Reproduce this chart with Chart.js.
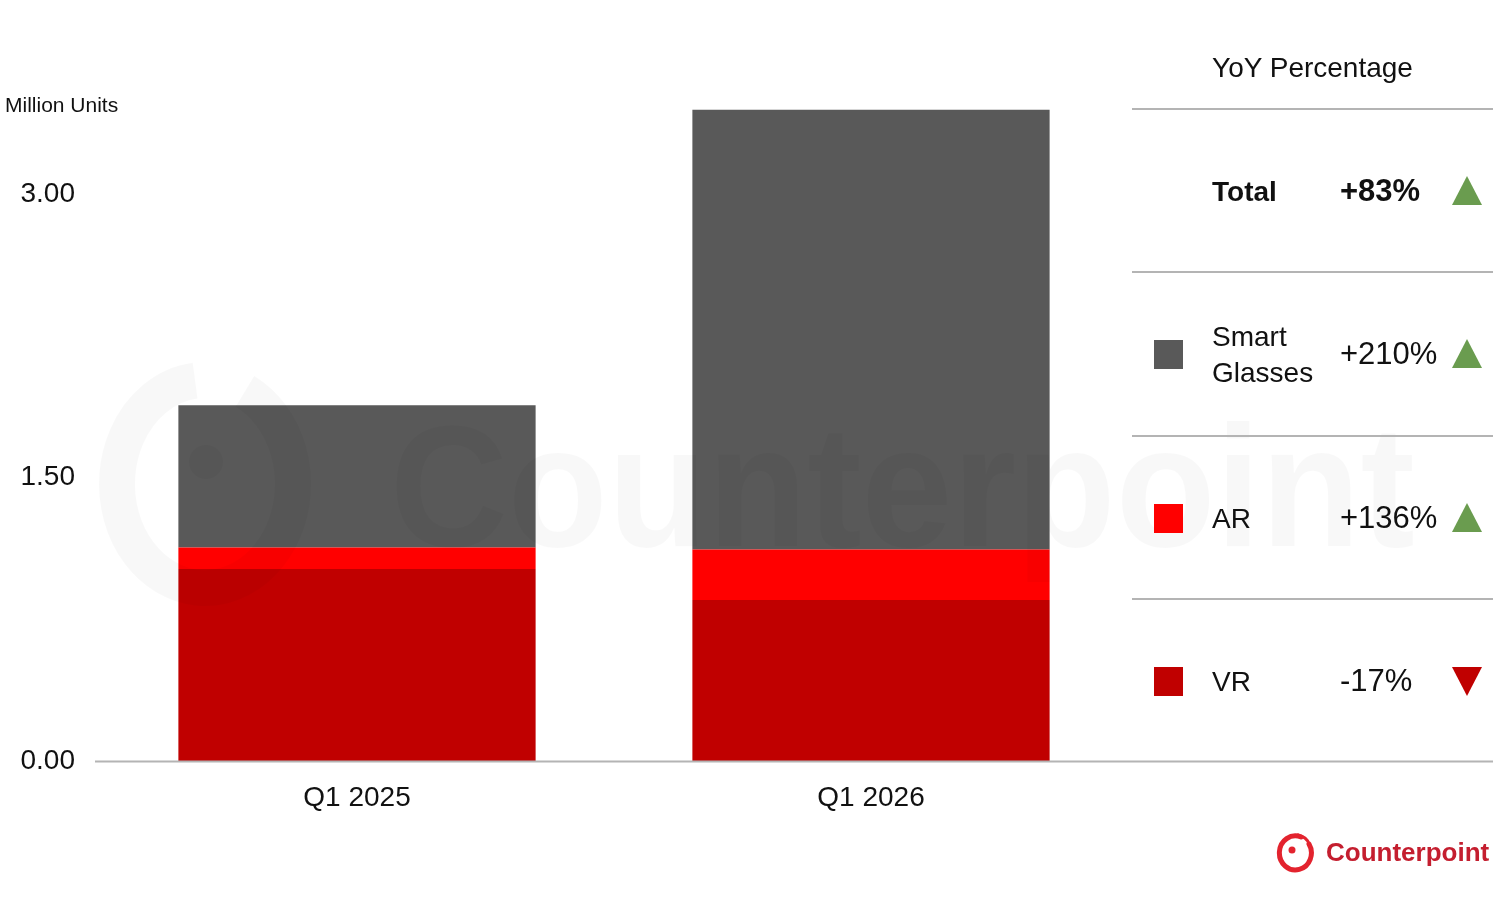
<!DOCTYPE html>
<html>
<head>
<meta charset="utf-8">
<script src="https://cdn.jsdelivr.net/npm/chart.js@4.4.1/dist/chart.umd.min.js"></script>
<style>
  html, body { margin: 0; padding: 0; background: #fff; }
  body { width: 1500px; height: 900px; position: relative; overflow: hidden;
         font-family: "Liberation Sans", Arial, sans-serif; color: #111; }
  #chart { position: absolute; left: 0; top: 0; }
  .unit { position: absolute; left: 5px; top: 93px; font-size: 21px; }
  .yoy { position: absolute; left: 1132px; top: 0; width: 361px; }
  .yoy .head { position: absolute; left: 0; top: 52px; width: 361px; text-align: center; font-size: 28px; }
  .yoy .row { position: absolute; left: 0; width: 361px; border-top: 2px solid #b4b4b4; }
  .yoy .sq { position: absolute; left: 22px; width: 29px; height: 29px; }
  .yoy .lbl { position: absolute; left: 80px; font-size: 28px; line-height: 36px; }
  .yoy .pct { position: absolute; left: 208px; font-size: 31px; line-height: 36px; }
  .yoy .tri { position: absolute; left: 320px; width: 0; height: 0;
              border-left: 15px solid transparent; border-right: 15px solid transparent; }
  .logo { position: absolute; left: 1276px; top: 830px; height: 44px; display: flex; align-items: center; }
  .logo span { font-weight: bold; font-size: 26px; color: #c41e2f; margin-left: 12px; }
</style>
</head>
<body>
<canvas id="chart" width="1500" height="900"></canvas>
<div class="unit">Million Units</div>
<div class="yoy" id="yoy"><div class="head">YoY Percentage</div></div>
<div class="logo">
  <svg width="38" height="42" viewBox="0 0 38 42">
    <path d="M25 6 A16 17 0 1 0 33 13" fill="none" stroke="#e3232e" stroke-width="5" stroke-linecap="round"/>
    <path d="M22 4 Q31 6 33 13" fill="none" stroke="#e3232e" stroke-width="3" stroke-linecap="round"/>
    <circle cx="16" cy="19" r="3.5" fill="#e3232e"/>
  </svg>
  <span>Counterpoint</span>
</div>
<script>
const categories = ["Q1 2025", "Q1 2026"];
const vrValues = [1.016, 0.852];
const arValues = [0.115, 0.268];
const smartGlassesValues = [0.753, 2.328];
const yTicks = [0, 1.5, 3.0];

const yoyRows = ["Total", "Smart<br>Glasses", "AR", "VR"];
const yoyValues = ["+83%", "+210%", "+136%", "-17%"];
const yoyUp = [true, true, true, false];

const colVR = "#c00000", colAR = "#ff0000", colSG = "#595959";
const swatches = [null, colSG, colAR, colVR];

// tabella YoY a destra
const yoy = document.getElementById("yoy");
const rowTops = [108, 271, 435, 598];
yoyRows.forEach((name, i) => {
  const h = (rowTops[i + 1] || 761) - rowTops[i];
  const row = document.createElement("div");
  row.className = "row";
  row.style.top = rowTops[i] + "px";
  row.style.height = h + "px";
  const mid = h / 2;
  const twoLines = name.includes("<br>");
  let html = "";
  if (swatches[i]) html += `<div class="sq" style="top:${mid - 15}px;background:${swatches[i]}"></div>`;
  html += `<div class="lbl" style="top:${mid - (twoLines ? 36 : 18)}px;${i === 0 ? "font-weight:bold" : ""}">${name}</div>`;
  html += `<div class="pct" style="top:${mid - 19}px;${i === 0 ? "font-weight:bold" : ""}">${yoyValues[i]}</div>`;
  if (yoyUp[i]) html += `<div class="tri" style="top:${mid - 16}px;border-bottom:29px solid #6a9c4f"></div>`;
  else html += `<div class="tri" style="top:${mid - 15}px;border-top:29px solid #c00000"></div>`;
  row.innerHTML = html;
  yoy.appendChild(row);
});

// watermark + linea di base
const decor = {
  id: "decor",
  afterDatasetsDraw(chart) {
    const { ctx, chartArea } = chart;
    ctx.save();
    ctx.fillStyle = "rgba(0,0,0,0.028)";
    ctx.strokeStyle = "rgba(0,0,0,0.028)";
    ctx.font = "bold 172px 'Liberation Sans', Arial, sans-serif";
    ctx.textBaseline = "alphabetic";
    ctx.fillText("Counterpoint", 390, 546, 1025);
    ctx.lineWidth = 36;
    ctx.beginPath();
    ctx.ellipse(205, 484, 88, 104, 0, -1.1, 4.6);
    ctx.stroke();
    ctx.beginPath();
    ctx.arc(206, 462, 17, 0, Math.PI * 2);
    ctx.fill();
    ctx.restore();

    ctx.save();
    ctx.strokeStyle = "#b4b4b4";
    ctx.lineWidth = 2;
    ctx.beginPath();
    ctx.moveTo(95, chartArea.bottom + 0.5);
    ctx.lineTo(1493, chartArea.bottom + 0.5);
    ctx.stroke();
    ctx.restore();
  }
};

const font = { family: "'Liberation Sans', Arial, sans-serif", size: 28 };

new Chart(document.getElementById("chart"), {
  type: "bar",
  data: {
    labels: categories,
    datasets: [
      { label: "VR", data: vrValues, backgroundColor: colVR },
      { label: "AR", data: arValues, backgroundColor: colAR },
      { label: "Smart Glasses", data: smartGlassesValues, backgroundColor: colSG }
    ]
  },
  options: {
    responsive: false,
    animation: false,
    layout: { padding: { top: 100, right: 372, left: 0, bottom: 0 } },
    datasets: { bar: { categoryPercentage: 1, barPercentage: 0.695, borderWidth: 0 } },
    plugins: { legend: { display: false }, tooltip: { enabled: false } },
    scales: {
      x: {
        stacked: true,
        grid: { display: false, drawTicks: false },
        border: { display: false },
        ticks: { color: "#111", font, padding: 20 },
        afterFit(s) { s.height = 139; }
      },
      y: {
        stacked: true,
        min: 0,
        max: 3.5,
        grid: { display: false, drawTicks: false },
        border: { display: false },
        afterBuildTicks(s) { s.ticks = yTicks.map(v => ({ value: v })); },
        ticks: { color: "#111", font, padding: 25, callback: v => Number(v).toFixed(2) },
        afterFit(s) { s.width = 100; }
      }
    }
  },
  plugins: [decor]
});
</script>
</body>
</html>
